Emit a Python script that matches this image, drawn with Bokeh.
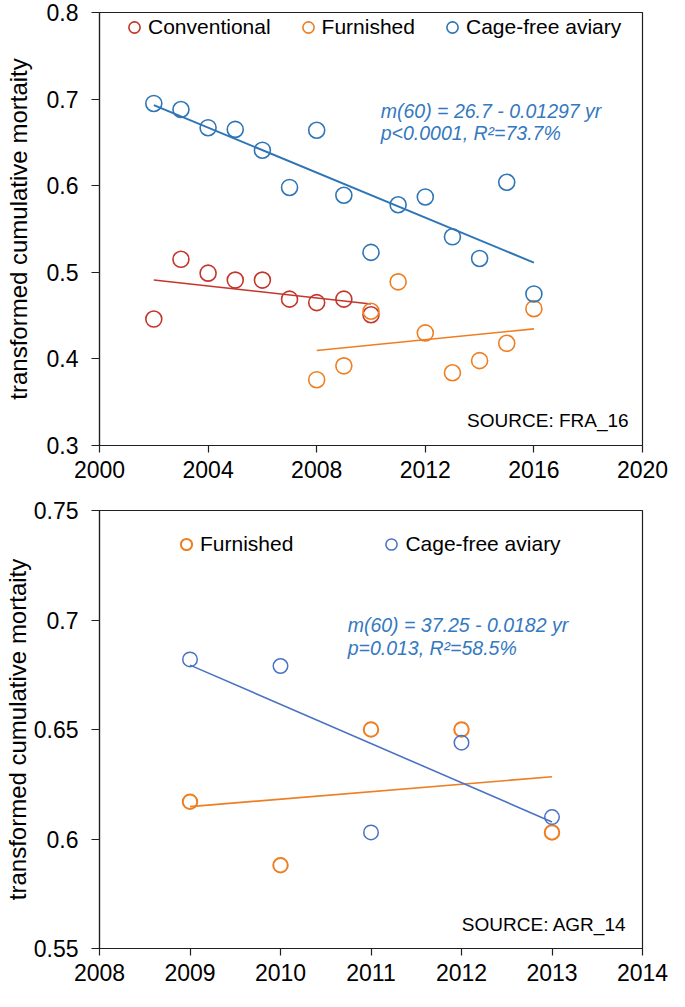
import numpy as np
from bokeh.plotting import figure
from bokeh.models import (FixedTicker, CustomJSTickFormatter, Legend, LegendItem,
                          Label, Range1d)
from bokeh.layouts import column
from bokeh.embed import file_html
from bokeh.resources import INLINE

# ---------------- data: panel 1 (SOURCE: FRA_16) ----------------
fra_conv_years = [2002, 2003, 2004, 2005, 2006, 2007, 2008, 2009, 2010]
fra_conv_vals = [0.446, 0.515, 0.499, 0.491, 0.491, 0.469, 0.465, 0.469, 0.451]
fra_furn_years = [2008, 2009, 2010, 2011, 2012, 2013, 2014, 2015, 2016]
fra_furn_vals = [0.376, 0.392, 0.455, 0.489, 0.430, 0.384, 0.398, 0.418, 0.458]
fra_cage_years = [2002, 2003, 2004, 2005, 2006, 2007, 2008, 2009, 2010,
                  2011, 2012, 2013, 2014, 2015, 2016]
fra_cage_vals = [0.695, 0.688, 0.667, 0.665, 0.641, 0.598, 0.664, 0.589, 0.523,
                 0.578, 0.587, 0.541, 0.516, 0.604, 0.475]
fra_x_ticks = [2000, 2004, 2008, 2012, 2016, 2020]
fra_y_ticks = [0.3, 0.4, 0.5, 0.6, 0.7, 0.8]

# ---------------- data: panel 2 (SOURCE: AGR_14) ----------------
agr_furn_years = [2009, 2010, 2011, 2012, 2013]
agr_furn_vals = [0.617, 0.588, 0.650, 0.650, 0.603]
agr_cage_years = [2009, 2010, 2011, 2012, 2013]
agr_cage_vals = [0.682, 0.679, 0.603, 0.644, 0.610]
agr_x_ticks = [2008, 2009, 2010, 2011, 2012, 2013, 2014]
agr_y_ticks = [0.55, 0.6, 0.65, 0.7, 0.75]

y_label = "transformed cumulative mortaity"
fra_eq = ["m(60) = 26.7 - 0.01297 yr", "p<0.0001, R\u00b2=73.7%"]
agr_eq = ["m(60) = 37.25 - 0.0182 yr", "p=0.013, R\u00b2=58.5%"]

FONT = "Liberation Sans"
RED = "#C3362B"
ORANGE = "#EE7E22"
BLUE1 = "#2E75B6"
BLUE2 = "#4A72C4"
TXTBLUE = "#3478C0"


def trend(years, vals):
    k, b = np.polyfit(years, vals, 1)
    xs = [min(years), max(years)]
    return xs, [k * x + b for x in xs]


def base_fig(height, xr, yr, xt, yt, mb_left, mb_top, mb_bottom, lab_standoff, tick_standoff):
    p = figure(width=669, height=height, x_range=Range1d(*xr), y_range=Range1d(*yr),
               min_border_left=mb_left, min_border_right=27, min_border_top=mb_top,
               min_border_bottom=mb_bottom, output_backend="svg", toolbar_location=None)
    p.xgrid.visible = False
    p.ygrid.visible = False
    p.outline_line_color = "#202020"
    p.outline_line_width = 1.2
    p.background_fill_color = "white"
    p.border_fill_color = "white"
    p.xaxis.ticker = FixedTicker(ticks=xt)
    p.yaxis.ticker = FixedTicker(ticks=yt)
    p.xaxis.formatter = CustomJSTickFormatter(code="return tick.toFixed(0);")
    p.yaxis.formatter = CustomJSTickFormatter(code="return String(Number(tick.toFixed(2)));")
    for ax in (p.xaxis, p.yaxis):
        ax.axis_line_color = "#202020"
        ax.axis_line_width = 1.2
        ax.major_tick_line_color = "#202020"
        ax.major_tick_line_width = 1.2
        ax.minor_tick_line_color = None
        ax.major_tick_in = 0
        ax.major_label_text_font = FONT
        ax.major_label_text_font_size = "23px"
        ax.major_label_text_color = "black"
    p.xaxis.major_tick_out = 7
    p.yaxis.major_tick_out = 8
    p.xaxis.major_label_standoff = 8
    p.yaxis.major_label_standoff = tick_standoff
    p.yaxis.axis_label = y_label
    p.yaxis.axis_label_text_font = FONT
    p.yaxis.axis_label_text_font_size = "24px"
    p.yaxis.axis_label_text_font_style = "normal"
    p.yaxis.axis_label_text_color = "black"
    p.yaxis.axis_label_standoff = lab_standoff
    return p


def add_legend(p, items, loc, spacing):
    leg = Legend(items=items, orientation="horizontal", location=loc,
                 glyph_width=28, glyph_height=30, label_standoff=0, spacing=spacing,
                 padding=0, margin=0, border_line_color=None, background_fill_alpha=0,
                 label_text_font=FONT, label_text_font_size="21px",
                 label_text_color="black", label_height=30)
    p.add_layout(leg)


def eq_label(x, y, text):
    return Label(x=x, y=y, text=text, text_font=FONT, text_font_size="19.5px",
                 text_font_style="italic", text_color=TXTBLUE, text_baseline="middle")


def src_label(x, y, text):
    return Label(x=x, y=y, text=text, text_font=FONT, text_font_size="19px",
                 text_color="black", text_align="right", text_baseline="middle")


# ---------------- panel 1 ----------------
p1 = base_fig(488, (2000, 2020), (0.3, 0.8), fra_x_ticks, fra_y_ticks, 92, 12, 43, 12, 13)

xs, ys = trend(fra_conv_years, fra_conv_vals)
p1.line(xs, ys, line_color=RED, line_width=1.6)
xs, ys = trend(fra_furn_years, fra_furn_vals)
p1.line(xs, ys, line_color=ORANGE, line_width=1.6)
xs, ys = trend(fra_cage_years, fra_cage_vals)
p1.line(xs, ys, line_color=BLUE1, line_width=2)

r_conv = p1.scatter(fra_conv_years, fra_conv_vals, marker="circle", size=16,
                    fill_alpha=0, line_color=RED, line_width=1.6)
r_furn = p1.scatter(fra_furn_years, fra_furn_vals, marker="circle", size=16,
                    fill_alpha=0, line_color=ORANGE, line_width=1.6)
r_cage = p1.scatter(fra_cage_years, fra_cage_vals, marker="circle", size=16,
                    fill_alpha=0, line_color=BLUE1, line_width=1.6)

add_legend(p1, [LegendItem(label="Conventional", renderers=[r_conv]),
                LegendItem(label="Furnished", renderers=[r_furn]),
                LegendItem(label="Cage-free aviary", renderers=[r_cage])],
           (21, 403), 23)

p1.add_layout(eq_label(2010.36, 0.6868, fra_eq[0]))
p1.add_layout(eq_label(2010.36, 0.6614, fra_eq[1]))
p1.add_layout(src_label(2019.49, 0.3289, "SOURCE: FRA_16"))

# ---------------- panel 2 ----------------
p2 = base_fig(503, (2008, 2014), (0.55, 0.75), agr_x_ticks, agr_y_ticks, 95, 22, 43, 0, 13)

xs, ys = trend(agr_furn_years, agr_furn_vals)
p2.line(xs, ys, line_color=ORANGE, line_width=1.6)
xs, ys = trend(agr_cage_years, agr_cage_vals)
p2.line(xs, ys, line_color=BLUE2, line_width=1.6)

r_furn2 = p2.scatter(agr_furn_years, agr_furn_vals, marker="circle", size=14.5,
                     fill_alpha=0, line_color=ORANGE, line_width=2.0)
r_cage2 = p2.scatter(agr_cage_years, agr_cage_vals, marker="circle", size=14.5,
                     fill_alpha=0, line_color=BLUE2, line_width=1.5)

add_legend(p2, [LegendItem(label="Furnished", renderers=[r_furn2]),
                LegendItem(label="Cage-free aviary", renderers=[r_cage2])],
           (73, 389), 84)

p2.add_layout(eq_label(2010.742, 0.6975, agr_eq[0]))
p2.add_layout(eq_label(2010.742, 0.6874, agr_eq[1]))
p2.add_layout(src_label(2013.824, 0.5610, "SOURCE: AGR_14"))

layout = column(p1, p2, spacing=0)
open("out.html", "w").write(file_html(layout, INLINE))
